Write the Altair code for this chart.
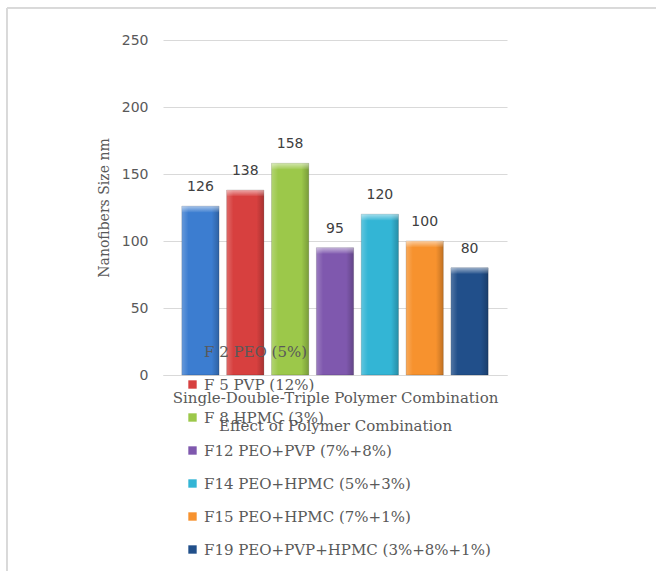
import altair as alt
import pandas as pd

# Nanofiber diameters for each polymer formulation
formulations = [
    "F 2 PEO (5%)",
    "F 5 PVP (12%)",
    "F 8 HPMC (3%)",
    "F12 PEO+PVP (7%+8%)",
    "F14 PEO+HPMC (5%+3%)",
    "F15 PEO+HPMC (7%+1%)",
    "F19 PEO+PVP+HPMC (3%+8%+1%)",
]
sizes_nm = [126, 138, 158, 95, 120, 100, 80]
bar_colors = ["#3C7DD0", "#D7403F", "#9CC84A", "#7F58AE", "#33B5D5", "#F7922E", "#214F8A"]
y_ticks = [0, 50, 100, 150, 200, 250]

df = pd.DataFrame({"formulation": formulations, "size": sizes_nm})

GRAY = "#595959"
SERIF = "DejaVu Serif"
SANS = "DejaVu Sans"

x_enc = alt.X(
    "formulation:N",
    sort=formulations,
    scale=alt.Scale(paddingInner=0.17, paddingOuter=0.42),
    axis=alt.Axis(
        labels=False,
        ticks=False,
        domain=True,
        domainColor="#D9D9D9",
        title=["Single-Double-Triple Polymer Combination", "Effect of Polymer Combination"],
        titleFont=SERIF,
        titleFontSize=15,
        titleFontWeight="normal",
        titleColor=GRAY,
        titleLineHeight=28,
        titlePadding=15,
    ),
)
y_enc = alt.Y(
    "size:Q",
    scale=alt.Scale(domain=[0, 250], nice=False),
    axis=alt.Axis(
        values=y_ticks,
        domain=False,
        ticks=False,
        gridColor="#D9D9D9",
        labelFont=SANS,
        labelFontSize=14,
        labelColor=GRAY,
        labelPadding=15,
        title="Nanofibers Size nm",
        titleFont=SERIF,
        titleFontSize=14,
        titleFontWeight="normal",
        titleColor=GRAY,
        titlePadding=10,
    ),
)

base = alt.Chart(df)

bars = base.mark_bar(stroke="rgba(0,0,0,0.25)", strokeWidth=0.6).encode(
    x=x_enc,
    y=y_enc,
    color=alt.Color(
        "formulation:N",
        sort=formulations,
        scale=alt.Scale(domain=formulations, range=bar_colors),
        legend=alt.Legend(
            title=None,
            orient="none",
            legendX=22,
            legendY=304,
            symbolType="square",
            symbolSize=70,
            symbolStrokeWidth=0,
            labelFont=SERIF,
            labelFontSize=15,
            labelColor=GRAY,
            labelLimit=400,
            rowPadding=17,
            labelOffset=4,
        ),
    ),
)

# side shading: lighter on the left edge, darker on the right edge
shade = base.mark_bar(
    color=alt.Gradient(
        gradient="linear",
        x1=0, x2=1, y1=0, y2=0,
        stops=[
            alt.GradientStop(color="rgba(255,255,255,0.22)", offset=0),
            alt.GradientStop(color="rgba(255,255,255,0.0)", offset=0.18),
            alt.GradientStop(color="rgba(0,0,0,0.0)", offset=0.8),
            alt.GradientStop(color="rgba(0,0,0,0.22)", offset=1),
        ],
    )
).encode(x=alt.X("formulation:N", sort=formulations), y="size:Q")

# bevel highlight along the top of each bar
bevel = base.mark_bar(
    y2Offset=6,
    color=alt.Gradient(
        gradient="linear",
        x1=0, x2=0, y1=0, y2=1,
        stops=[
            alt.GradientStop(color="rgba(255,255,255,0.55)", offset=0),
            alt.GradientStop(color="rgba(255,255,255,0.05)", offset=1),
        ],
    ),
).encode(x=alt.X("formulation:N", sort=formulations), y="size:Q", y2="size:Q")

labels = base.mark_text(dy=-19, font=SANS, fontSize=14, color="#404040").encode(
    x=alt.X("formulation:N", sort=formulations), y="size:Q", text="size:Q"
)

# light frame around the chart area
frame_left = base.mark_rule(color="#D9D9D9", strokeWidth=1).encode(
    x=alt.value(-156), y=alt.value(-32), y2=alt.value(560)
)
frame_top = base.mark_rule(color="#D9D9D9", strokeWidth=1).encode(
    x=alt.value(-156), x2=alt.value(520), y=alt.value(-32)
)

chart = (
    alt.layer(frame_left, frame_top, bars, shade, bevel, labels)
    .properties(
        width=344,
        height=335,
        autosize=alt.AutoSizeParams(type="none"),
        padding={"left": 163, "top": 40, "right": 149, "bottom": 196},
        background="white",
    )
    .configure_view(stroke=None)
)

chart.save("out.html", embed_options={"renderer": "svg", "actions": False})
